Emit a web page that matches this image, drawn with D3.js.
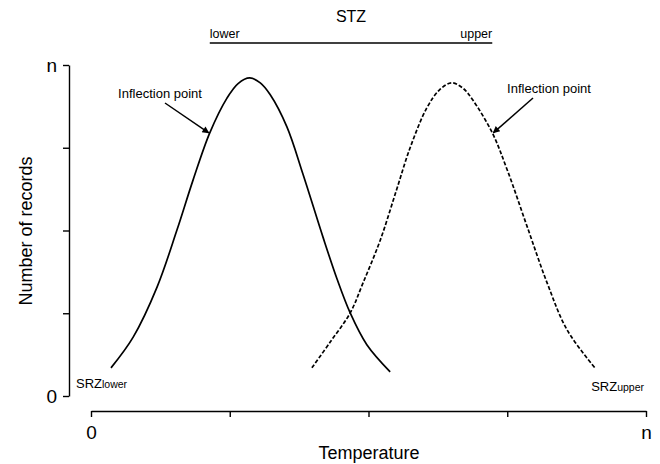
<!DOCTYPE html>
<html lang="en">
<head>
<meta charset="utf-8">
<title>STZ / SRZ curves</title>
<script src="https://d3js.org/d3.v7.min.js"></script>
<style>
	body { margin: 0; background: #fff; }
	svg { font-family: "Liberation Sans", Arial, sans-serif; }
	.axis path, .axis line { stroke: #000; stroke-width: 1.4; fill: none; }
	.axis text { font-size: 19px; fill: #000; }
</style>
</head>
<body>
<script>
// Tick positions (percent of the range) and labels
var xTicks = [0, 25, 50, 75, 100];
var xTickLabels = ["0", "", "", "", "n"];
var yTicks = [0, 25, 50, 75, 100];
var yTickLabels = ["0", "", "", "", "n"];

// Lower curve (solid)
var lowerTemp = [3.6, 7.6, 11.9, 15.5, 18.4, 21.4, 24.5, 26.5, 28.6, 30.5, 32.3, 35.3, 38.2, 41.8, 44.3, 46.7, 49.7, 53.9];
var lowerRecords = [8.5, 17.8, 32.9, 50.2, 65.3, 79.5, 90.0, 94.4, 96.1, 94.6, 91.0, 81.3, 67.0, 48.0, 35.5, 25.1, 15.5, 7.3];

// Upper curve (dashed)
var upperTemp = [39.8, 43.1, 46.7, 49.0, 52.1, 55.0, 57.5, 60.5, 62.8, 65.0, 67.0, 68.8, 72.3, 75.0, 78.6, 82.2, 85.8, 90.8];
var upperRecords = [8.5, 16.3, 25.1, 34.1, 47.0, 62.0, 75.0, 87.0, 92.5, 94.6, 93.0, 89.4, 79.5, 68.3, 51.1, 34.1, 19.9, 8.5];

// STZ spans the two inflection points
var stzRange = [21.4, 72.3];

var width = 660, height = 464;

var svg = d3.select("body").append("svg")
	.attr("width", width)
	.attr("height", height);

var xScale = d3.scaleLinear().domain([0, 100]).range([91, 646]);
var yScale = d3.scaleLinear().domain([0, 100]).range([396, 65]);

// arrow head
svg.append("defs").append("marker")
	.attr("id", "arrow")
	.attr("viewBox", "0 0 10 10")
	.attr("refX", 9).attr("refY", 5)
	.attr("markerWidth", 9).attr("markerHeight", 7)
	.attr("markerUnits", "userSpaceOnUse")
	.attr("orient", "auto")
	.append("path")
	.attr("d", "M0,0 L10,5 L0,10 z")
	.attr("fill", "#000");

// axes
var xAxis = d3.axisBottom(xScale)
	.tickValues(xTicks)
	.tickFormat(function(d, i) { return xTickLabels[i]; })
	.tickSize(6)
	.tickSizeOuter(0)
	.tickPadding(9);

var yAxis = d3.axisLeft(yScale)
	.tickValues(yTicks)
	.tickFormat(function(d, i) { return yTickLabels[i]; })
	.tickSize(6)
	.tickSizeOuter(0)
	.tickPadding(6);

svg.append("g")
	.attr("class", "axis")
	.attr("transform", "translate(0,411)")
	.call(xAxis);

svg.append("g")
	.attr("class", "axis")
	.attr("transform", "translate(69,0)")
	.call(yAxis);

svg.selectAll(".axis text").attr("font-family", null);

// axis titles
svg.append("text")
	.attr("x", 369).attr("y", 459)
	.attr("text-anchor", "middle")
	.style("font-size", "18px")
	.text("Temperature");

svg.append("text")
	.attr("transform", "translate(32,231) rotate(-90)")
	.attr("text-anchor", "middle")
	.style("font-size", "18px")
	.text("Number of records");

// curves
var line = d3.line()
	.x(function(d) { return xScale(d[0]); })
	.y(function(d) { return yScale(d[1]); })
	.curve(d3.curveCatmullRom.alpha(0.5));

svg.append("path")
	.datum(d3.zip(lowerTemp, lowerRecords))
	.attr("d", line)
	.attr("fill", "none")
	.attr("stroke", "#000")
	.attr("stroke-width", 1.7);

svg.append("path")
	.datum(d3.zip(upperTemp, upperRecords))
	.attr("d", line)
	.attr("fill", "none")
	.attr("stroke", "#000")
	.attr("stroke-width", 1.7)
	.attr("stroke-dasharray", "4,2");

// STZ bar
svg.append("line")
	.attr("x1", xScale(stzRange[0])).attr("x2", xScale(stzRange[1]))
	.attr("y1", 43).attr("y2", 43)
	.attr("stroke", "#000")
	.attr("stroke-width", 1.6);

svg.append("text")
	.attr("x", (xScale(stzRange[0]) + xScale(stzRange[1])) / 2).attr("y", 22)
	.attr("text-anchor", "middle")
	.style("font-size", "16px")
	.text("STZ");

svg.append("text")
	.attr("x", xScale(stzRange[0])).attr("y", 38)
	.style("font-size", "12.5px")
	.text("lower");

svg.append("text")
	.attr("x", xScale(stzRange[1])).attr("y", 38)
	.attr("text-anchor", "end")
	.style("font-size", "12.5px")
	.text("upper");

// inflection point annotations
var notes = [
	{ tx: 160, ty: 98, from: [165, 103], to: [stzRange[0], 79.5] },
	{ tx: 549, ty: 93, from: [533, 98], to: [stzRange[1], 79.5] }
];

notes.forEach(function(n) {
	svg.append("text")
		.attr("x", n.tx).attr("y", n.ty)
		.attr("text-anchor", "middle")
		.style("font-size", "13px")
		.text("Inflection point");
	svg.append("line")
		.attr("x1", n.from[0]).attr("y1", n.from[1])
		.attr("x2", xScale(n.to[0]) + (n.from[0] < xScale(n.to[0]) ? -1 : 1))
		.attr("y2", yScale(n.to[1]))
		.attr("stroke", "#000")
		.attr("stroke-width", 1.5)
		.attr("marker-end", "url(#arrow)");
});

// SRZ labels
var srzLo = svg.append("text").attr("x", 76).attr("y", 388).style("font-size", "13px");
srzLo.append("tspan").text("SRZ");
srzLo.append("tspan").style("font-size", "10.5px").text("lower");

var srzUp = svg.append("text").attr("x", 644).attr("y", 391)
	.attr("text-anchor", "end").style("font-size", "13px");
srzUp.append("tspan").text("SRZ");
srzUp.append("tspan").style("font-size", "10.5px").text("upper");
</script>
</body>
</html>
